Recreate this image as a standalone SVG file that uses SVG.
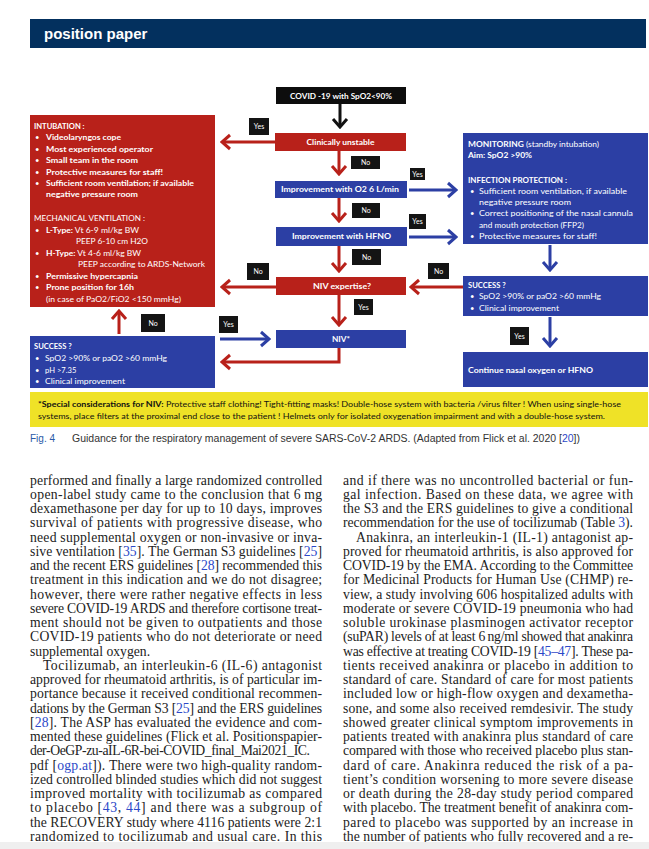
<svg xmlns="http://www.w3.org/2000/svg" width="649" height="849" viewBox="0 0 649 849">
<style>
.d{font-family:Lato,"Open Sans","DejaVu Sans",sans-serif;fill:#fff;font-size:7.6px}
.b{font-weight:bold}
.c{text-anchor:middle}
.red{fill:#b8211a}
.blue{fill:#2c3fa4}
.lab{fill:#141414}
.lt{font-family:Lato,"Open Sans",sans-serif;fill:#fff;font-size:7px;text-anchor:middle}
.ar{fill:none;stroke-width:3}
.ar-r{stroke:#b8211a}
.ar-b{stroke:#2c3fa4}
.ar-k{stroke:#111}
.body{font-family:"Liberation Serif","Times New Roman",serif;font-size:13.7px;fill:#222}
.lk{fill:#2b48c8}
.cap{font-family:"Liberation Sans",Arial,sans-serif;font-size:10px;fill:#333}
.y{font-family:Lato,"Open Sans",sans-serif;font-size:7.8px;fill:#111}
</style>
<defs>
<marker id="mr" markerUnits="userSpaceOnUse" viewBox="-11 -9 13 18" refX="0" refY="0" markerWidth="13" markerHeight="18" orient="auto"><path d="M-8,-7 L0,0 L-8,7" fill="none" stroke="#b8211a" stroke-width="3"/></marker>
<marker id="mb" markerUnits="userSpaceOnUse" viewBox="-11 -9 13 18" refX="0" refY="0" markerWidth="13" markerHeight="18" orient="auto"><path d="M-8,-7 L0,0 L-8,7" fill="none" stroke="#2c3fa4" stroke-width="3"/></marker>
<marker id="mk" markerUnits="userSpaceOnUse" viewBox="-11 -9 13 18" refX="0" refY="0" markerWidth="13" markerHeight="18" orient="auto"><path d="M-8,-7 L0,0 L-8,7" fill="none" stroke="#111" stroke-width="3"/></marker>
</defs>
<rect width="649" height="849" fill="#fff"/>

<!-- header -->
<g id="header">
<rect x="30" y="19" width="616" height="29" fill="#03305e"/>
<text x="44" y="39" font-family="'Liberation Sans',Arial,sans-serif" font-weight="bold" font-size="15" fill="#fff">position paper</text>
</g>

<!-- nodes -->
<g id="n-covid">
<rect x="276" y="87" width="130" height="17" fill="#0d0d0d"/>
<text class="d b c" x="341" y="98.7" textLength="102" lengthAdjust="spacingAndGlyphs">COVID -19 with SpO2&lt;90%</text>
</g>
<g id="n-unstable">
<rect class="red" x="275" y="133" width="131" height="18"/>
<text class="d b c" x="340.5" y="144.8" textLength="68" lengthAdjust="spacingAndGlyphs">Clinically unstable</text>
</g>
<g id="n-o2">
<rect class="blue" x="275" y="181" width="132" height="17"/>
<text class="d b c" x="340" y="192.3" textLength="118" lengthAdjust="spacingAndGlyphs">Improvement with O2 6 L/min</text>
</g>
<g id="n-hfno">
<rect class="blue" x="276" y="227" width="131" height="19"/>
<text class="d b c" x="341.5" y="239.3" textLength="99" lengthAdjust="spacingAndGlyphs">Improvement with HFNO</text>
</g>
<g id="n-nivexp">
<rect class="red" x="276" y="277" width="130" height="18"/>
<text class="d b c" x="342" y="288.8" textLength="58" lengthAdjust="spacingAndGlyphs">NIV expertise?</text>
</g>
<g id="n-niv">
<rect class="blue" x="276" y="330" width="130" height="18"/>
<text class="d b c" x="341" y="341.8" textLength="18" lengthAdjust="spacingAndGlyphs">NIV*</text>
</g>

<g id="n-intubation">
<rect class="red" x="30" y="115" width="185" height="192"/>
<text class="d b" x="34" y="128.6">INTUBATION  :</text>
<text class="d" x="35" y="140">•</text>
<text class="d b" x="46" y="140" textLength="75" lengthAdjust="spacingAndGlyphs">Videolaryngos cope</text>
<text class="d" x="35" y="151.5">•</text>
<text class="d b" x="46" y="151.5" textLength="107" lengthAdjust="spacingAndGlyphs">Most experienced operator</text>
<text class="d" x="35" y="163">•</text>
<text class="d b" x="46" y="163" textLength="92" lengthAdjust="spacingAndGlyphs">Small  team in the room</text>
<text class="d" x="35" y="174.5">•</text>
<text class="d b" x="46" y="174.5" textLength="117" lengthAdjust="spacingAndGlyphs">Protective measures for staff!</text>
<text class="d" x="35" y="186">•</text>
<text class="d b" x="46" y="186" textLength="148" lengthAdjust="spacingAndGlyphs">Sufficient room ventilation; if available</text>
<text class="d b" x="46" y="197.2" textLength="92" lengthAdjust="spacingAndGlyphs">negative pressure room</text>
<text class="d" x="34" y="221" textLength="111" lengthAdjust="spacingAndGlyphs">MECHANICAL VENTILATION   :</text>
<text class="d" x="35" y="232.7">•</text>
<text class="d" x="46" y="232.7" textLength="93" lengthAdjust="spacingAndGlyphs"><tspan class="b">L-Type:</tspan> Vt 6-9 ml/kg BW</text>
<text class="d" x="76" y="244.4" textLength="72" lengthAdjust="spacingAndGlyphs">PEEP 6-10 cm H2O</text>
<text class="d" x="35" y="256">•</text>
<text class="d" x="46" y="256" textLength="95" lengthAdjust="spacingAndGlyphs"><tspan class="b">H-Type:</tspan> Vt 4-6 ml/kg BW</text>
<text class="d" x="78" y="267.2" textLength="127" lengthAdjust="spacingAndGlyphs">PEEP according to ARDS-Network</text>
<text class="d" x="35" y="278.5">•</text>
<text class="d b" x="46" y="278.5" textLength="92" lengthAdjust="spacingAndGlyphs">Permissive hypercapnia</text>
<text class="d" x="35" y="290">•</text>
<text class="d b" x="46" y="290" textLength="88" lengthAdjust="spacingAndGlyphs">Prone position for 16h</text>
<text class="d" x="46" y="301.7" textLength="135" lengthAdjust="spacingAndGlyphs">(in case of PaO2/FiO2 &lt;150 mmHg)</text>
</g>

<g id="n-success-left">
<rect class="blue" x="30" y="336" width="185" height="52"/>
<text class="d b" x="34" y="349.4">SUCCESS ?</text>
<text class="d" x="35" y="361">•</text>
<text class="d" x="45" y="361" textLength="122" lengthAdjust="spacingAndGlyphs">SpO2 &gt;90% or paO2 &gt;60 mmHg</text>
<text class="d" x="35" y="372.7">•</text>
<text class="d" x="45" y="372.7">pH &gt;7.35</text>
<text class="d" x="35" y="383.8">•</text>
<text class="d" x="45" y="383.8" textLength="80" lengthAdjust="spacingAndGlyphs">Clinical improvement</text>
</g>

<g id="n-monitoring">
<rect class="blue" x="463" y="133" width="185" height="111"/>
<text class="d" x="468" y="147" textLength="131" lengthAdjust="spacingAndGlyphs"><tspan class="b">MONITORING</tspan>  (standby intubation)</text>
<text class="d b" x="468" y="158.4" textLength="64" lengthAdjust="spacingAndGlyphs">Aim: SpO2 &gt;90%</text>
<text class="d b" x="468" y="183.4" textLength="99" lengthAdjust="spacingAndGlyphs">INFECTION PROTECTION  :</text>
<text class="d" x="470" y="193.8">•</text>
<text class="d" x="479" y="193.8" textLength="148" lengthAdjust="spacingAndGlyphs">Sufficient  room ventilation, if available</text>
<text class="d" x="479" y="204.5" textLength="92" lengthAdjust="spacingAndGlyphs">negative  pressure room</text>
<text class="d" x="470" y="216">•</text>
<text class="d" x="479" y="216" textLength="154" lengthAdjust="spacingAndGlyphs">Correct  positioning of the nasal cannula</text>
<text class="d" x="479" y="227.7" textLength="105" lengthAdjust="spacingAndGlyphs">and mouth protection (FFP2)</text>
<text class="d" x="470" y="239.4">•</text>
<text class="d" x="479" y="239.4" textLength="118" lengthAdjust="spacingAndGlyphs">Protective measures for staff!</text>
</g>

<g id="n-success-right">
<rect class="blue" x="463" y="276" width="185" height="40"/>
<text class="d b" x="468" y="287.8">SUCCESS ?</text>
<text class="d" x="470" y="299.4">•</text>
<text class="d" x="479" y="299.4" textLength="122" lengthAdjust="spacingAndGlyphs">SpO2 &gt;90% or paO2 &gt;60 mmHg</text>
<text class="d" x="470" y="310.5">•</text>
<text class="d" x="479" y="310.5" textLength="80" lengthAdjust="spacingAndGlyphs">Clinical improvement</text>
</g>

<g id="n-continue">
<rect class="blue" x="463" y="352" width="185" height="35"/>
<text class="d b" x="468" y="373.4" textLength="125" lengthAdjust="spacingAndGlyphs">Continue nasal oxygen or HFNO</text>
</g>

<!-- connectors -->
<g id="connectors">
<path class="ar ar-k" d="M340,104 V127" marker-end="url(#mk)"/>
<path class="ar ar-r" d="M339,151 V174" marker-end="url(#mr)"/>
<path class="ar ar-r" d="M339,198 V221" marker-end="url(#mr)"/>
<path class="ar ar-r" d="M339,246 V271" marker-end="url(#mr)"/>
<path class="ar ar-r" d="M339,295 V325" marker-end="url(#mr)"/>
<path class="ar ar-r" d="M275,142 H222" marker-end="url(#mr)"/>
<path class="ar ar-r" d="M276,287 H222" marker-end="url(#mr)"/>
<path class="ar ar-r" d="M463,287 H411" marker-end="url(#mr)"/>
<path class="ar ar-r" d="M339,348 V362 H222" marker-end="url(#mr)"/>
<path class="ar ar-r" d="M119,334 V311" marker-end="url(#mr)"/>
<path class="ar ar-b" d="M409,190 H456" marker-end="url(#mb)"/>
<path class="ar ar-b" d="M409,237 H456" marker-end="url(#mb)"/>
<path class="ar ar-b" d="M220,339 H269" marker-end="url(#mb)"/>
<path class="ar ar-b" d="M550,245 V270" marker-end="url(#mb)"/>
<path class="ar ar-b" d="M550,317 V346" marker-end="url(#mb)"/>
<g id="labels">
<rect class="lab" x="249" y="118" width="20" height="17"/><text class="lt" x="259" y="129">Yes</text>
<rect class="lab" x="351" y="156" width="29" height="13"/><text class="lt" x="365.5" y="165">No</text>
<rect class="lab" x="410" y="168" width="15" height="12"/><text class="lt" x="417.5" y="176.5" font-size="6">Yes</text>
<rect class="lab" x="352" y="203" width="28" height="15"/><text class="lt" x="366" y="213">No</text>
<rect class="lab" x="409" y="214" width="17" height="15"/><text class="lt" x="417.5" y="224" font-size="6.5">Yes</text>
<rect class="lab" x="352" y="249" width="29" height="16"/><text class="lt" x="366.5" y="259.5">No</text>
<rect class="lab" x="247" y="263" width="22" height="17"/><text class="lt" x="258" y="274">No</text>
<rect class="lab" x="428" y="263" width="21" height="16"/><text class="lt" x="438.5" y="273.5">No</text>
<rect class="lab" x="354" y="299" width="19" height="16"/><text class="lt" x="363.5" y="309.5" font-size="6.5">Yes</text>
<rect class="lab" x="141" y="314" width="24" height="18"/><text class="lt" x="153" y="325.5">No</text>
<rect class="lab" x="219" y="316" width="19" height="17"/><text class="lt" x="228.5" y="327" font-size="6.5">Yes</text>
<rect class="lab" x="510" y="327" width="19" height="18"/><text class="lt" x="519.5" y="338.5" font-size="6.5">Yes</text>
</g>
</g>

<!-- special considerations -->
<g id="note">
<rect x="30" y="392" width="618" height="35" fill="#efe227"/>
<text class="y" x="38" y="406.5" textLength="583" lengthAdjust="spacingAndGlyphs"><tspan font-weight="bold">*Special considerations for NIV:</tspan>  Protective staff clothing!  Tight-fitting masks!  Double-hose system with bacteria /virus filter ! When using single-hose</text>
<text class="y" x="38" y="419" textLength="567" lengthAdjust="spacingAndGlyphs">systems, place filters at the proximal end  close to the patient ! Helmets  only for isolated  oxygenation impairment  and with a double-hose system.</text>
</g>

<g id="caption">
<text class="cap" x="30" y="441.5"><tspan fill="#2a5aa8">Fig. 4</tspan></text>
<text class="cap" x="72" y="441.5" textLength="508" lengthAdjust="spacingAndGlyphs">Guidance for the respiratory management of severe SARS-CoV-2 ARDS. (Adapted from Flick et al. 2020 [<tspan class="lk">20</tspan>])</text>
</g>

<g id="body-left">
<text class="body" x="30" y="484.5" textLength="292">performed and finally a large randomized controlled</text>
<text class="body" x="30" y="498.75" textLength="292">open-label study came to the conclusion that 6&#8201;mg</text>
<text class="body" x="30" y="513" textLength="292">dexamethasone per day for up to 10 days, improves</text>
<text class="body" x="30" y="527.25" textLength="292">survival of patients with progressive disease, who</text>
<text class="body" x="30" y="541.5" textLength="292">need supplemental oxygen or non-invasive or inva-</text>
<text class="body" x="30" y="555.75" textLength="292">sive ventilation [<tspan class="lk">35</tspan>].  The German S3 guidelines [<tspan class="lk">25</tspan>]</text>
<text class="body" x="30" y="570" textLength="292">and the recent ERS guidelines [<tspan class="lk">28</tspan>] recommended this</text>
<text class="body" x="30" y="584.25" textLength="292">treatment in this indication and we do not disagree;</text>
<text class="body" x="30" y="598.5" textLength="292">however, there were rather negative effects in less</text>
<text class="body" x="30" y="612.75" textLength="292">severe COVID-19 ARDS and therefore cortisone treat-</text>
<text class="body" x="30" y="627" textLength="292">ment should not be given to outpatients and those</text>
<text class="body" x="30" y="641.25" textLength="292">COVID-19 patients who do not deteriorate or need</text>
<text class="body" x="30" y="655.5">supplemental oxygen.</text>
<text class="body" x="43" y="669.75" textLength="279">Tocilizumab, an interleukin-6 (IL-6) antagonist</text>
<text class="body" x="30" y="684" textLength="292">approved for rheumatoid arthritis, is of particular im-</text>
<text class="body" x="30" y="698.25" textLength="292">portance because it received conditional recommen-</text>
<text class="body" x="30" y="712.5" textLength="292">dations by the German S3 [<tspan class="lk">25</tspan>] and the ERS guidelines</text>
<text class="body" x="30" y="726.75" textLength="292">[<tspan class="lk">28</tspan>]. The ASP has evaluated the evidence and com-</text>
<text class="body" x="30" y="741" textLength="292">mented these guidelines (Flick et al. Positionspapier-</text>
<text class="body" x="30" y="755.25" textLength="280">der-OeGP-zu-aIL-6R-bei-COVID_final_Mai2021_IC.</text>
<text class="body" x="30" y="769.5" textLength="292">pdf [<tspan class="lk">ogp.at</tspan>]).  There were two high-quality random-</text>
<text class="body" x="30" y="783.75" textLength="292">ized controlled blinded studies which did not suggest</text>
<text class="body" x="30" y="798" textLength="292">improved mortality with tocilizumab as compared</text>
<text class="body" x="30" y="812.25" textLength="292">to placebo [<tspan class="lk">43</tspan>, <tspan class="lk">44</tspan>] and there was a subgroup of</text>
<text class="body" x="30" y="826.5" textLength="292">the RECOVERY study where 4116 patients were 2:1</text>
<text class="body" x="30" y="840.75" textLength="292">randomized to tocilizumab and usual care.  In this</text>
</g>

<g id="body-right">
<text class="body" x="343" y="484.5" textLength="290">and if there was no uncontrolled bacterial or fun-</text>
<text class="body" x="343" y="498.75" textLength="290">gal infection.  Based on these data, we agree with</text>
<text class="body" x="343" y="513" textLength="290">the S3 and the ERS guidelines to give a conditional</text>
<text class="body" x="343" y="527.25" textLength="290">recommendation for the use of tocilizumab (Table <tspan class="lk">3</tspan>).</text>
<text class="body" x="356" y="541.5" textLength="277">Anakinra, an interleukin-1 (IL-1) antagonist ap-</text>
<text class="body" x="343" y="555.75" textLength="290">proved for rheumatoid arthritis, is also approved for</text>
<text class="body" x="343" y="570" textLength="290">COVID-19 by the EMA.  According to the Committee</text>
<text class="body" x="343" y="584.25" textLength="290">for Medicinal Products for Human Use (CHMP) re-</text>
<text class="body" x="343" y="598.5" textLength="290">view, a study involving 606 hospitalized adults with</text>
<text class="body" x="343" y="612.75" textLength="290">moderate or severe COVID-19 pneumonia who had</text>
<text class="body" x="343" y="627" textLength="290">soluble urokinase plasminogen activator receptor</text>
<text class="body" x="343" y="641.25" textLength="290">(suPAR) levels of at least 6&#8201;ng/ml showed that anakinra</text>
<text class="body" x="343" y="655.5" textLength="290">was effective at treating COVID-19 [<tspan class="lk">45–47</tspan>]. These pa-</text>
<text class="body" x="343" y="669.75" textLength="290">tients received anakinra or placebo in addition to</text>
<text class="body" x="343" y="684" textLength="290">standard of care.  Standard of care for most patients</text>
<text class="body" x="343" y="698.25" textLength="290">included low or high-flow oxygen and dexametha-</text>
<text class="body" x="343" y="712.5" textLength="290">sone, and some also received remdesivir.  The study</text>
<text class="body" x="343" y="726.75" textLength="290">showed greater clinical symptom improvements in</text>
<text class="body" x="343" y="741" textLength="290">patients treated with anakinra plus standard of care</text>
<text class="body" x="343" y="755.25" textLength="290">compared with those who received placebo plus stan-</text>
<text class="body" x="343" y="769.5" textLength="290">dard of care.  Anakinra reduced the risk of a pa-</text>
<text class="body" x="343" y="783.75" textLength="290">tient’s condition worsening to more severe disease</text>
<text class="body" x="343" y="798" textLength="290">or death during the 28-day study period compared</text>
<text class="body" x="343" y="812.25" textLength="290">with placebo. The treatment benefit of anakinra com-</text>
<text class="body" x="343" y="826.5" textLength="290">pared to placebo was supported by an increase in</text>
<text class="body" x="343" y="840.75" textLength="290">the number of patients who fully recovered and a re-</text>
</g>

<rect x="0" y="842" width="649" height="7" fill="#efefef"/>
</svg>
